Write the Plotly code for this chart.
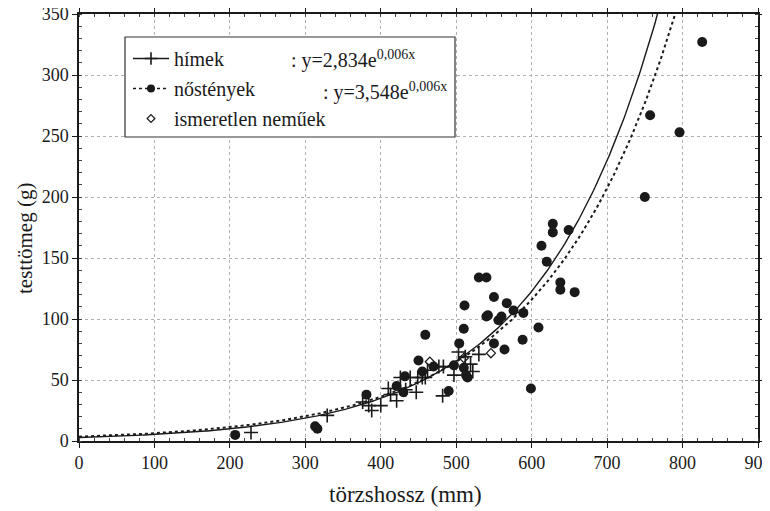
import numpy as np
import plotly.graph_objects as go

# ---- data ----
female_x = [207, 313, 316, 381, 421, 430, 432, 450, 455, 459, 470, 490, 497, 504, 510, 510,
            511, 513, 515, 530, 540, 540, 542, 550, 550, 556, 560, 564, 567, 576, 589, 588,
            599, 609, 613, 620, 628, 628, 638, 638, 649, 657, 750, 757, 796, 826]
female_y = [5, 12, 10, 38, 45, 40, 53, 66, 57, 87, 61, 41, 62, 80, 92, 60,
            111, 54, 52, 134, 134, 102, 103, 118, 80, 99, 102, 75, 113, 107, 105, 83,
            43, 93, 160, 147, 178, 171, 130, 124, 173, 122, 200, 267, 253, 327]

male_x = [228, 329, 376, 384, 388, 400, 410, 413, 421, 426, 433, 439, 447, 449, 455, 459,
          462, 477, 482, 483, 497, 503, 512, 519, 522, 530]
male_y = [7, 21, 32, 29, 25, 29, 43, 38, 33, 52, 42, 52, 40, 52, 52, 52,
          58, 61, 37, 61, 54, 73, 69, 63, 57, 71]

unknown_x = [465, 510, 546]
unknown_y = [65, 68, 72]

# regression curves y = a * exp(b x) (as drawn)
male_a, male_b = 2.834, 0.00628
female_a, female_b = 3.548, 0.00581

x_ticks = [0, 100, 200, 300, 400, 500, 600, 700, 800, 900]
y_ticks = [0, 50, 100, 150, 200, 250, 300, 350]

FONT = "Times New Roman"
INK = "#1a1a1a"

# page has an 8px body margin: figure is offset by (8, 8)
W, H = 754, 503
PL, PR, PT, PB = 71, 750, 6, 433  # plot area in figure pixels


def px(xp):  # reference page x-pixel -> paper fraction
    return (xp - 8 - PL) / (PR - PL)


def py(yp):  # reference page y-pixel -> paper fraction
    return (PB - (yp - 8)) / (PB - PT)


curve_x = np.linspace(0, 900, 451)
male_curve = male_a * np.exp(male_b * curve_x)
female_curve = female_a * np.exp(female_b * curve_x)

fig = go.Figure()

fig.add_trace(go.Scatter(x=curve_x, y=male_curve, mode="lines",
                         line=dict(color=INK, width=1.4), showlegend=False,
                         hoverinfo="skip"))
fig.add_trace(go.Scatter(x=curve_x, y=female_curve, mode="lines",
                         line=dict(color=INK, width=2, dash="dot"), showlegend=False,
                         hoverinfo="skip"))

fig.add_trace(go.Scatter(x=female_x, y=female_y, mode="markers", showlegend=False,
                         marker=dict(symbol="circle", size=10, color=INK)))
fig.add_trace(go.Scatter(x=male_x, y=male_y, mode="markers", showlegend=False,
                         marker=dict(symbol="cross-thin-open", size=10, color=INK,
                                     line=dict(color=INK, width=1.6))))
fig.add_trace(go.Scatter(x=unknown_x, y=unknown_y, mode="markers", showlegend=False,
                         marker=dict(symbol="diamond-open", size=7, color=INK,
                                     line=dict(color=INK, width=1.3))))

# legend entries
fig.add_trace(go.Scatter(x=[None], y=[None], mode="lines+markers", name="hímek",
                         legendgroup="a",
                         line=dict(color=INK, width=1.4),
                         marker=dict(symbol="cross-thin-open", size=9, color=INK,
                                     line=dict(color=INK, width=1.6))))
fig.add_trace(go.Scatter(x=[None], y=[None], mode="lines+markers", name="nőstények",
                         legendgroup="b",
                         line=dict(color=INK, width=1.5, dash="dot"),
                         marker=dict(symbol="circle", size=8, color=INK)))
fig.add_trace(go.Scatter(x=[None], y=[None], mode="markers", name="ismeretlen neműek",
                         legendgroup="c",
                         marker=dict(symbol="diamond-open", size=6, color=INK,
                                     line=dict(color=INK, width=1.2))))

# legend box
fig.add_shape(type="rect", xref="paper", yref="paper",
              x0=px(125), x1=px(455), y0=py(137), y1=py(37),
              line=dict(color="#333", width=1.2), fillcolor="white", layer="above")

fig.add_annotation(xref="paper", yref="paper", x=px(289), y=py(59),
                   xanchor="left", yanchor="middle", showarrow=False,
                   text=": y=2,834e<sup>0,006x</sup>",
                   font=dict(family=FONT, size=20, color=INK))
fig.add_annotation(xref="paper", yref="paper", x=px(321), y=py(92),
                   xanchor="left", yanchor="middle", showarrow=False,
                   text=": y=3,548e<sup>0,006x</sup>",
                   font=dict(family=FONT, size=20, color=INK))

# axis titles
fig.add_annotation(xref="paper", yref="paper", x=px(405), y=py(495),
                   xanchor="center", yanchor="middle", showarrow=False,
                   text="törzshossz (mm)", font=dict(family=FONT, size=23, color=INK))
fig.add_annotation(xref="paper", yref="paper", x=px(25), y=py(239),
                   xanchor="center", yanchor="middle", showarrow=False, textangle=-90,
                   text="testtömeg (g)", font=dict(family=FONT, size=21, color=INK))

fig.update_layout(
    width=W, height=H,
    margin=dict(l=PL, r=W - PR, t=PT, b=H - PB),
    paper_bgcolor="white", plot_bgcolor="white",
    font=dict(family=FONT, size=18, color=INK),
    legend=dict(x=px(128), y=py(39), xanchor="left", yanchor="top",
                bgcolor="rgba(0,0,0,0)", borderwidth=0,
                traceorder="grouped", tracegroupgap=1,
                font=dict(family=FONT, size=20, color=INK), itemwidth=36),
    xaxis=dict(range=[0, 900], tickvals=x_ticks, ticktext=[str(v) for v in x_ticks],
               showline=True, linecolor=INK, linewidth=1.5, mirror="allticks",
               ticks="outside", ticklen=5, tickcolor=INK, automargin=False,
               ticklabeloverflow="allow",
               minor=dict(dtick=20, ticks="inside", ticklen=3, tickcolor="#444", showgrid=False),
               showgrid=True, gridcolor="#b0b0b0", griddash="dot", gridwidth=1,
               zeroline=False, tickfont=dict(family=FONT, size=18)),
    yaxis=dict(range=[0, 350], tickvals=y_ticks, ticktext=[str(v) for v in y_ticks],
               showline=True, linecolor=INK, linewidth=1.5, mirror="allticks",
               ticks="outside", ticklen=5, tickcolor=INK, automargin=False,
               ticklabeloverflow="allow",
               minor=dict(dtick=10, ticks="inside", ticklen=3, tickcolor="#444", showgrid=False),
               showgrid=True, gridcolor="#b0b0b0", griddash="dot", gridwidth=1,
               zeroline=False, tickfont=dict(family=FONT, size=18)),
)

fig.write_html("out.html")
